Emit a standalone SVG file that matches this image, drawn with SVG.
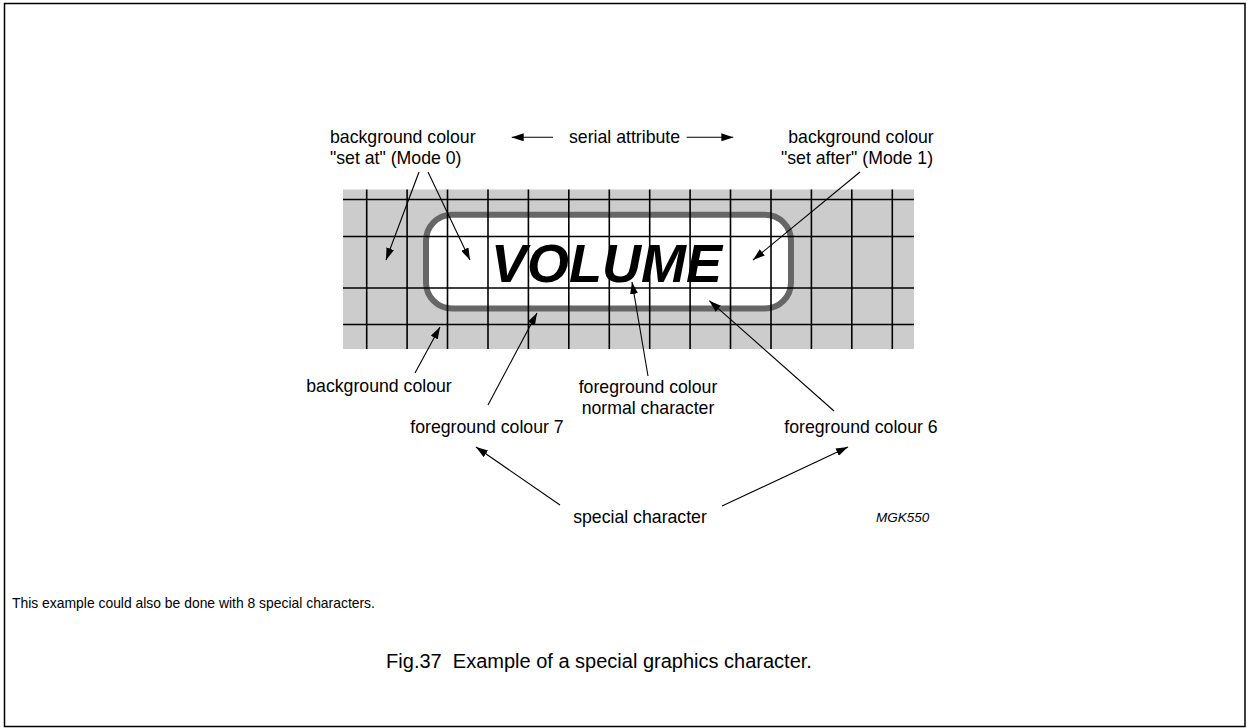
<svg xmlns="http://www.w3.org/2000/svg" width="1247" height="728" viewBox="0 0 1247 728">
<defs>
<marker id="ah" markerWidth="12" markerHeight="8" refX="12" refY="4" orient="auto" markerUnits="userSpaceOnUse">
<path d="M0,0 L12,4 L0,8 Z" fill="#000"/>
</marker>
<style>
text{font-family:"Liberation Sans",Arial,sans-serif;fill:#000}
.lbl{font-size:17.7px}
.c{text-anchor:middle}
.grid line{stroke:#000;stroke-width:1.6}
.conn line{stroke:#000;stroke-width:1.1;marker-end:url(#ah)}
</style>
</defs>
<rect x="0" y="0" width="1247" height="728" fill="#fff"/>
<rect x="4.5" y="3.5" width="1240.5" height="723" fill="none" stroke="#000" stroke-width="1.5"/>
<g id="grid">
<rect x="343" y="189.5" width="571" height="159.5" fill="#cccccc"/>
<rect x="426" y="214.7" width="365" height="93.8" rx="26" ry="26" fill="#fff" stroke="#666" stroke-width="6"/>
<g class="grid">
<line x1="343" y1="199.5" x2="914" y2="199.5"/>
<line x1="343" y1="236.5" x2="914" y2="236.5"/>
<line x1="343" y1="288" x2="914" y2="288"/>
<line x1="343" y1="324.5" x2="914" y2="324.5"/>
<line x1="366.7" y1="189.5" x2="366.7" y2="349"/>
<line x1="407.1" y1="189.5" x2="407.1" y2="349"/>
<line x1="447.5" y1="189.5" x2="447.5" y2="349"/>
<line x1="488" y1="189.5" x2="488" y2="349"/>
<line x1="528.4" y1="189.5" x2="528.4" y2="349"/>
<line x1="568.8" y1="189.5" x2="568.8" y2="349"/>
<line x1="609.3" y1="189.5" x2="609.3" y2="349"/>
<line x1="649.7" y1="189.5" x2="649.7" y2="349"/>
<line x1="690.1" y1="189.5" x2="690.1" y2="349"/>
<line x1="730.5" y1="189.5" x2="730.5" y2="349"/>
<line x1="771" y1="189.5" x2="771" y2="349"/>
<line x1="811.4" y1="189.5" x2="811.4" y2="349"/>
<line x1="851.8" y1="189.5" x2="851.8" y2="349"/>
<line x1="892.3" y1="189.5" x2="892.3" y2="349"/>
</g>
<text x="491" y="281.5" style="font-size:54px;font-weight:bold;font-style:italic">VOLUME</text>
</g>
<g id="connectors" class="conn">
<line x1="553" y1="137.3" x2="511.7" y2="137.3"/>
<line x1="686.7" y1="137.3" x2="733.3" y2="137.3"/>
<line x1="419" y1="172" x2="386" y2="260"/>
<line x1="428" y1="172" x2="470" y2="260"/>
<line x1="860" y1="172" x2="753" y2="260"/>
<line x1="415" y1="373" x2="440" y2="327"/>
<line x1="488" y1="405" x2="537" y2="313"/>
<line x1="648" y1="376" x2="632" y2="282"/>
<line x1="834" y1="411" x2="709.3" y2="300.7"/>
<line x1="560" y1="505" x2="476" y2="447"/>
<line x1="722" y1="506" x2="848" y2="447"/>
</g>
<g id="label-set-at">
<text class="lbl" x="330" y="143.3">background colour</text>
<text class="lbl" x="330" y="164.3">"set at" (Mode 0)</text>
</g>
<g id="label-serial">
<text class="lbl" x="569" y="143.3">serial attribute</text>
</g>
<g id="label-set-after">
<text class="lbl c" x="861" y="143.3">background colour</text>
<text class="lbl c" x="857" y="164.3">"set after" (Mode 1)</text>
</g>
<g id="label-bg">
<text class="lbl c" x="379" y="392">background colour</text>
</g>
<g id="label-fg-normal">
<text class="lbl c" x="648" y="393">foreground colour</text>
<text class="lbl c" x="648" y="414">normal character</text>
</g>
<g id="label-fg7">
<text class="lbl c" x="487" y="433">foreground colour 7</text>
</g>
<g id="label-fg6">
<text class="lbl c" x="861" y="433">foreground colour 6</text>
</g>
<g id="label-special">
<text class="lbl c" x="640" y="523">special character</text>
</g>
<text x="876" y="522" style="font-size:13.5px;font-style:italic">MGK550</text>
<text x="12" y="608" style="font-size:13.9px">This example could also be done with 8 special characters.</text>
<text class="c" x="599" y="668" style="font-size:20px" xml:space="preserve">Fig.37  Example of a special graphics character.</text>
</svg>
